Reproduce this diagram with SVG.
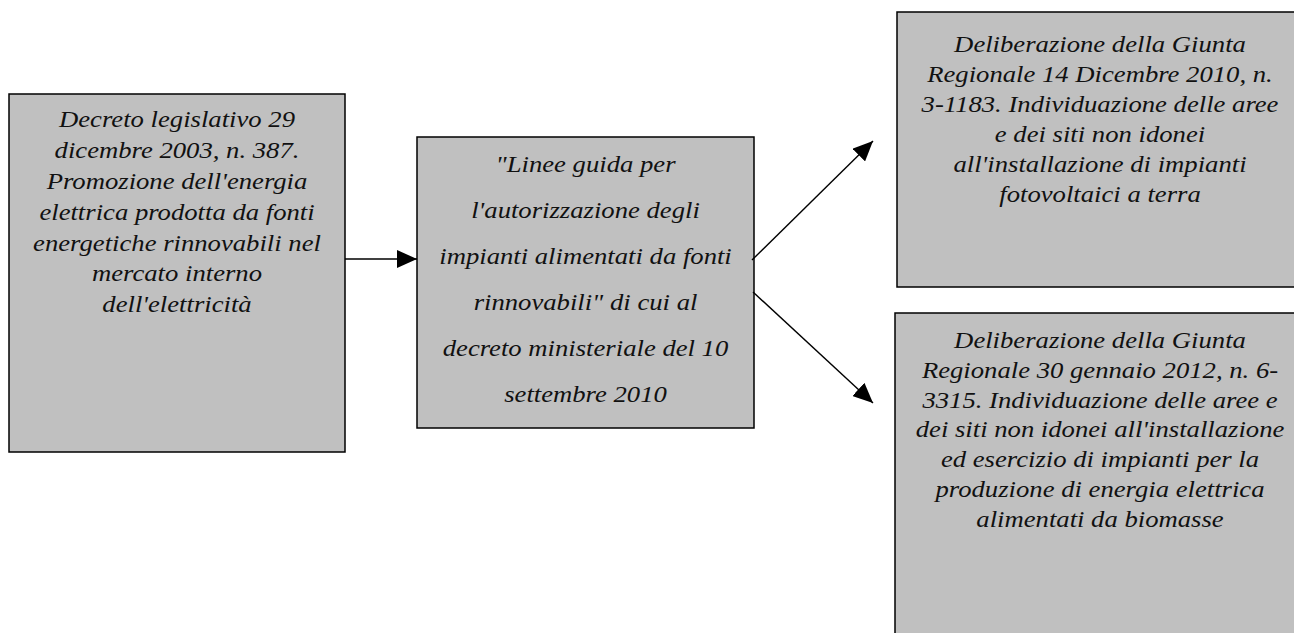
<svg xmlns="http://www.w3.org/2000/svg" width="1294" height="633" viewBox="0 0 1294 633">
<style>
.box{fill:#c0c0c0;stroke:#000;stroke-width:1.5}
.t{font-family:"Liberation Serif","Times New Roman",serif;font-style:italic;font-size:23px;fill:#111;text-anchor:middle}
.c{stroke:#000;stroke-width:1.4;fill:none;marker-end:url(#ah)}
</style>
<defs>
<marker id="ah" markerUnits="userSpaceOnUse" markerWidth="20" markerHeight="18" refX="20" refY="9" orient="auto">
<path d="M0,0 L20,9 L0,18 z" fill="#000"/>
</marker>
</defs>
<rect width="1294" height="633" fill="#fff"/>
<g id="n1">
<rect class="box" x="9" y="94" width="336" height="358"/>
<text class="t" transform="translate(177 0) scale(1.16 1)"><tspan x="0" y="127.5">Decreto legislativo 29</tspan><tspan x="0" y="158.3">dicembre 2003, n. 387.</tspan><tspan x="0" y="189.1">Promozione dell'energia</tspan><tspan x="0" y="219.9">elettrica prodotta da fonti</tspan><tspan x="0" y="250.7">energetiche rinnovabili nel</tspan><tspan x="0" y="281.5">mercato interno</tspan><tspan x="0" y="312.3">dell'elettricità</tspan></text>
</g>
<g id="n2">
<rect class="box" x="417" y="137" width="337" height="291"/>
<text class="t" transform="translate(585.5 0) scale(1.16 1)"><tspan x="0" y="172">"Linee guida per</tspan><tspan x="0" y="218">l'autorizzazione degli</tspan><tspan x="0" y="264">impianti alimentati da fonti</tspan><tspan x="0" y="310">rinnovabili" di cui al</tspan><tspan x="0" y="356">decreto ministeriale del 10</tspan><tspan x="0" y="402">settembre 2010</tspan></text>
</g>
<g id="n3">
<rect class="box" x="897" y="12" width="410" height="275"/>
<text class="t" transform="translate(1100 0) scale(1.16 1)"><tspan x="0" y="52">Deliberazione della Giunta</tspan><tspan x="0" y="82">Regionale 14 Dicembre 2010, n.</tspan><tspan x="0" y="112">3-1183. Individuazione delle aree</tspan><tspan x="0" y="142">e dei siti non idonei</tspan><tspan x="0" y="172">all'installazione di impianti</tspan><tspan x="0" y="202">fotovoltaici a terra</tspan></text>
</g>
<g id="n4">
<rect class="box" x="895" y="313" width="412" height="340"/>
<text class="t" transform="translate(1100 0) scale(1.16 1)"><tspan x="0" y="348">Deliberazione della Giunta</tspan><tspan x="0" y="378">Regionale 30 gennaio 2012, n. 6-</tspan><tspan x="0" y="408">3315. Individuazione delle aree e</tspan><tspan x="0" y="437.5">dei siti non idonei all'installazione</tspan><tspan x="0" y="467">ed esercizio di impianti per la</tspan><tspan x="0" y="497">produzione di energia elettrica</tspan><tspan x="0" y="527">alimentati da biomasse</tspan></text>
</g>
<g id="connectors">
<line class="c" x1="345" y1="259" x2="417" y2="259"/>
<line class="c" x1="752" y1="260" x2="873" y2="141"/>
<line class="c" x1="753" y1="292" x2="873" y2="403"/>
</g>
</svg>
